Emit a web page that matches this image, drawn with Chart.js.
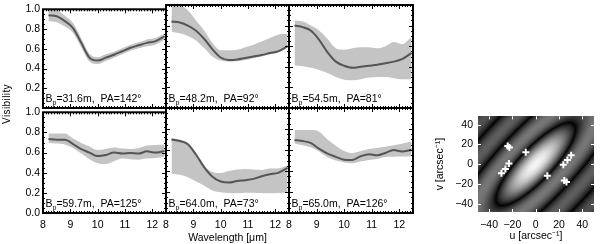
<!DOCTYPE html>
<html>
<head>
<meta charset="utf-8">
<script src="https://cdn.jsdelivr.net/npm/chart.js@4.4.1/dist/chart.umd.min.js"></script>
<style>
  html, body { margin: 0; padding: 0; background: #fff; }
  #wrap { position: relative; width: 600px; height: 244px; overflow: hidden; }
  #wrap canvas { position: absolute; }
</style>
</head>
<body>
<div id="wrap"></div>
<script>
// wavelength grid (micron) shared by all six baselines
const wavelength = [8.2, 8.5, 8.8, 9.1, 9.4, 9.7, 10.0, 10.3, 10.6, 10.9, 11.2, 11.5, 11.8, 12.1, 12.45];

const baselineLen = ['31.6', '48.2', '54.5', '59.7', '64.0', '65.0'];
const baselinePA = [142, 92, 81, 125, 73, 126];

// visibility: mean curve + upper/lower edge of the grey band
const v1Mean  = [0.94, 0.93, 0.88, 0.81, 0.66, 0.51, 0.48, 0.51, 0.54, 0.575, 0.61, 0.635, 0.66, 0.675, 0.725];
const v1Upper = [1.00, 0.99, 0.935, 0.86, 0.705, 0.55, 0.515, 0.545, 0.57, 0.605, 0.64, 0.665, 0.695, 0.71, 0.755];
const v1Lower = [0.88, 0.87, 0.825, 0.76, 0.615, 0.47, 0.445, 0.475, 0.51, 0.545, 0.58, 0.605, 0.625, 0.64, 0.695];

const v2Mean  = [0.84, 0.83, 0.80, 0.75, 0.67, 0.57, 0.49, 0.465, 0.47, 0.485, 0.50, 0.515, 0.533, 0.55, 0.60];
const v2Upper = [1.02, 1.00, 0.95, 0.85, 0.75, 0.63, 0.56, 0.56, 0.565, 0.59, 0.615, 0.645, 0.68, 0.71, 0.72];
const v2Lower = [0.74, 0.725, 0.70, 0.655, 0.58, 0.50, 0.46, 0.45, 0.453, 0.465, 0.482, 0.50, 0.52, 0.54, 0.59];

const v3Mean  = [0.80, 0.785, 0.75, 0.66, 0.54, 0.45, 0.41, 0.39, 0.40, 0.41, 0.42, 0.435, 0.45, 0.475, 0.535];
const v3Upper = [0.85, 0.84, 0.80, 0.75, 0.67, 0.58, 0.565, 0.58, 0.59, 0.59, 0.58, 0.60, 0.64, 0.62, 0.69];
const v3Lower = [0.415, 0.405, 0.39, 0.37, 0.34, 0.30, 0.275, 0.27, 0.28, 0.295, 0.30, 0.30, 0.29, 0.28, 0.28];

const v4Mean  = [0.735, 0.727, 0.727, 0.685, 0.635, 0.60, 0.565, 0.575, 0.60, 0.59, 0.595, 0.59, 0.612, 0.60, 0.615];
const v4Upper = [0.79, 0.79, 0.79, 0.74, 0.695, 0.66, 0.625, 0.635, 0.65, 0.64, 0.635, 0.645, 0.67, 0.675, 0.68];
const v4Lower = [0.695, 0.69, 0.68, 0.645, 0.59, 0.535, 0.495, 0.486, 0.515, 0.54, 0.535, 0.53, 0.54, 0.545, 0.562];

const v5Mean  = [0.70, 0.685, 0.655, 0.555, 0.435, 0.346, 0.30, 0.29, 0.305, 0.313, 0.325, 0.35, 0.37, 0.382, 0.43];
const v5Upper = [0.715, 0.70, 0.665, 0.57, 0.45, 0.39, 0.38, 0.40, 0.415, 0.42, 0.415, 0.41, 0.425, 0.425, 0.455];
const v5Lower = [0.375, 0.365, 0.34, 0.30, 0.26, 0.215, 0.198, 0.19, 0.188, 0.192, 0.194, 0.19, 0.188, 0.19, 0.195];

const v6Mean  = [0.695, 0.685, 0.665, 0.61, 0.565, 0.535, 0.507, 0.505, 0.54, 0.56, 0.55, 0.572, 0.60, 0.585, 0.603];
const v6Upper = [0.79, 0.79, 0.79, 0.775, 0.70, 0.64, 0.59, 0.57, 0.59, 0.61, 0.62, 0.63, 0.645, 0.66, 0.68];
const v6Lower = [0.663, 0.645, 0.625, 0.585, 0.53, 0.50, 0.482, 0.475, 0.49, 0.505, 0.515, 0.533, 0.535, 0.537, 0.54];

const xTicks = [8, 9, 10, 11, 12];
const yTicksTop = [0.2, 0.4, 0.6, 0.8, 1.0];
const yTicksBottom = [0.0, 0.2, 0.4, 0.6, 0.8, 1.0];

// uv coverage (arcsec^-1)
const uvU = [-24, -22.6, -8.5, -23, -26, -29.4, 10, 23.7, 27.2, 30.4, 24.5, 26.4];
const uvV = [18.4, 16.8, 12, 0.7, -4.8, -9.2, -11.7, -0.6, 4.1, 8.9, -16.5, -18];
const uvTicks = [-40, -20, 0, 20, 40];

// model visibility map behind the uv points (elongated thin ring)
const modelAngle = 52;      // deg, long axis of central lobe
const modelNullMajor = 52;  // first null along long axis
const modelNullMinor = 15;  // first null along short axis
const modelStretch = 0.8;   // display stretch

const FONT = 'Liberation Sans, Arial, Helvetica, sans-serif';

const panels = [
  [v1Mean, v1Upper, v1Lower], [v2Mean, v2Upper, v2Lower], [v3Mean, v3Upper, v3Lower],
  [v4Mean, v4Upper, v4Lower], [v5Mean, v5Upper, v5Lower], [v6Mean, v6Upper, v6Lower]
];

const colEdges = [43, 166, 289, 413];
const rowEdges = [5, 108, 213];

function besselJ0(x) {
  const ax = Math.abs(x);
  if (ax < 8) {
    const y = x * x;
    const a1 = 57568490574.0 + y * (-13362590354.0 + y * (651619640.7 + y * (-11214424.18 + y * (77392.33017 + y * (-184.9052456)))));
    const a2 = 57568490411.0 + y * (1029532985.0 + y * (9494680.718 + y * (59272.64853 + y * (267.8532712 + y))));
    return a1 / a2;
  }
  const z = 8 / ax, y = z * z, xx = ax - 0.785398164;
  const p1 = 1.0 + y * (-0.1098628627e-2 + y * (0.2734510407e-4 + y * (-0.2073370639e-5 + y * 0.2093887211e-6)));
  const p2 = -0.1562499995e-1 + y * (0.1430488765e-3 + y * (-0.6911147651e-5 + y * (0.7621095161e-6 - y * 0.934935152e-7)));
  return Math.sqrt(0.636619772 / ax) * (Math.cos(xx) * p1 - z * Math.sin(xx) * p2);
}

// IDL-style box with inward ticks
const frame = {
  id: 'frame',
  afterDraw(chart, args, o) {
    const { ctx, chartArea: a, scales: { x, y } } = chart;
    ctx.save();
    ctx.strokeStyle = o.color;
    if (o.box) {
      ctx.lineWidth = 2;
      ctx.strokeRect(a.left, a.top, a.right - a.left, a.bottom - a.top);
    }
    ctx.lineWidth = o.tickWidth;
    ctx.beginPath();
    const xs = (step, len) => {
      for (let v = Math.ceil(x.min / step - 1e-6) * step; v <= x.max + 1e-9; v += step) {
        const p = Math.round(x.getPixelForValue(v)) + 0.5;
        ctx.moveTo(p, a.top); ctx.lineTo(p, a.top + len);
        ctx.moveTo(p, a.bottom); ctx.lineTo(p, a.bottom - len);
      }
    };
    const ys = (step, len) => {
      for (let v = Math.ceil(y.min / step - 1e-6) * step; v <= y.max + 1e-9; v += step) {
        const p = Math.round(y.getPixelForValue(v)) + 0.5;
        ctx.moveTo(a.left, p); ctx.lineTo(a.left + len, p);
        ctx.moveTo(a.right, p); ctx.lineTo(a.right - len, p);
      }
    };
    xs(o.xMajor, o.majorLen); ys(o.yMajor, o.majorLen);
    if (o.xMinor) xs(o.xMinor, o.minorLen);
    if (o.yMinor) ys(o.yMinor, o.minorLen);
    ctx.stroke();
    ctx.restore();
  }
};

// baseline label and free-standing axis labels
const notes = {
  id: 'notes',
  afterDatasetsDraw(chart, args, o) {
    const { ctx, chartArea: a } = chart;
    ctx.save();
    ctx.fillStyle = '#000';
    ctx.textBaseline = 'alphabetic';
    if (o.bp) {
      let px = a.left + 2.5, py = a.bottom - 6;
      ctx.font = '10.5px ' + FONT;
      ctx.fillText('B', px, py); px += ctx.measureText('B').width;
      ctx.font = '7px ' + FONT;
      ctx.fillText('p', px, py + 2.5); px += ctx.measureText('p').width;
      ctx.font = '10.5px ' + FONT;
      ctx.fillText('=' + o.bp + 'm,  PA=' + o.pa + '\u00B0', px, py);
    }
    (o.extra || []).forEach(t => {
      ctx.save();
      ctx.font = t.size + 'px ' + FONT;
      ctx.letterSpacing = '0.4px';
      ctx.textAlign = 'center';
      ctx.translate(t.x, t.y);
      if (t.rot) ctx.rotate(t.rot);
      ctx.fillText(t.text, 0, 0);
      ctx.restore();
    });
    ctx.restore();
  }
};

const uvField = {
  id: 'uvField',
  beforeDatasetsDraw(chart) {
    const { ctx, chartArea: a, scales: { x, y } } = chart;
    const l = Math.round(a.left), t = Math.round(a.top);
    const w = Math.round(a.right) - l, h = Math.round(a.bottom) - t;
    const img = ctx.createImageData(w, h);
    const th = modelAngle * Math.PI / 180, c = Math.cos(th), s = Math.sin(th);
    for (let j = 0; j < h; j++) {
      const v = y.getValueForPixel(t + j + 0.5);
      for (let i = 0; i < w; i++) {
        const u = x.getValueForPixel(l + i + 0.5);
        const p = u * c + v * s, q = -u * s + v * c;
        const r = 2.4048 * Math.hypot(p / modelNullMajor, q / modelNullMinor);
        const vis = Math.abs(besselJ0(r));
        const g = Math.round(245 * Math.pow(vis, modelStretch));
        const k = (j * w + i) * 4;
        img.data[k] = img.data[k + 1] = img.data[k + 2] = g;
        img.data[k + 3] = 255;
      }
    }
    ctx.putImageData(img, l, t);
  }
};

const wrap = document.getElementById('wrap');
function makeCanvas(left, top, w, h) {
  const cv = document.createElement('canvas');
  cv.width = w; cv.height = h;
  cv.style.left = left + 'px'; cv.style.top = top + 'px';
  cv.style.width = w + 'px'; cv.style.height = h + 'px';
  wrap.appendChild(cv);
  return cv;
}

const PL = 43, PT = 5, PR = 3, PB = 31;
panels.forEach(([mean, upper, lower], i) => {
  const col = i % 3, row = Math.floor(i / 3);
  const x0 = colEdges[col], x1 = colEdges[col + 1];
  const y0 = rowEdges[row], y1 = rowEdges[row + 1];
  const cv = makeCanvas(x0 - PL, y0 - PT, PL + (x1 - x0) + PR, PT + (y1 - y0) + PB);
  const pts = arr => arr.map((v, k) => ({ x: wavelength[k], y: v }));
  const extra = [];
  if (i === 0) extra.push({ text: 'Visibility', x: 10 - (x0 - PL), y: 104 - (y0 - PT), rot: -Math.PI / 2, size: 10 });
  new Chart(cv, {
    type: 'line',
    data: {
      datasets: [
        { data: pts(lower), order: 2, borderWidth: 0, pointRadius: 0, fill: false, cubicInterpolationMode: 'monotone' },
        { data: pts(upper), order: 1, borderWidth: 0, pointRadius: 0, fill: '-1', backgroundColor: '#c4c4c4', cubicInterpolationMode: 'monotone' },
        { data: pts(mean), order: 0, borderColor: '#555555', borderWidth: 2, pointRadius: 0, fill: false, cubicInterpolationMode: 'monotone' }
      ]
    },
    options: {
      responsive: false, animation: false, events: [], devicePixelRatio: 1,
      layout: { padding: { top: PT, right: PR, left: 0, bottom: 0 } },
      plugins: {
        legend: { display: false }, tooltip: { enabled: false },
        frame: { color: '#000', box: true, tickWidth: 1, xMajor: 1, yMajor: 0.2, xMinor: 0.1, yMinor: 0.05, majorLen: 4, minorLen: 2 },
        notes: { bp: baselineLen[i], pa: baselinePA[i], extra }
      },
      scales: {
        x: {
          type: 'linear', min: 8, max: 12.5,
          grid: { display: false, drawTicks: false }, border: { display: false },
          afterBuildTicks: s => { s.ticks = xTicks.map(v => ({ value: v })); },
          afterFit: s => { s.height = PB; },
          ticks: { display: row === 1, padding: 6, color: '#000', maxRotation: 0, autoSkip: false, font: { family: FONT, size: 10.5 } },
          title: { display: i === 4, text: 'Wavelength [\u03BCm]', color: '#000', padding: 0, font: { family: FONT, size: 10.5 } }
        },
        y: {
          type: 'linear', min: 0, max: 1,
          grid: { display: false, drawTicks: false }, border: { display: false },
          afterBuildTicks: s => { s.ticks = (row === 0 ? yTicksTop : yTicksBottom).map(v => ({ value: v })); },
          afterFit: s => { s.width = PL; },
          ticks: { display: col === 0, padding: 3, color: '#000', font: { family: FONT, size: 10.5 }, callback: v => v.toFixed(1) }
        }
      }
    },
    plugins: [frame, notes]
  });
});

// uv-plane panel
const uvCanvas = makeCanvas(430, 105, 170, 139);
const minus = v => (v < 0 ? '\u2212' + Math.abs(v) : String(v));
new Chart(uvCanvas, {
  type: 'scatter',
  data: {
    datasets: [{
      data: uvU.map((u, k) => ({ x: u, y: uvV[k] })),
      pointStyle: 'cross', pointRadius: 3.5, borderWidth: 2, borderColor: '#ffffff'
    }]
  },
  options: {
    responsive: false, animation: false, events: [], devicePixelRatio: 1,
    layout: { padding: { top: 5, right: 0, left: 0, bottom: 0 } },
    plugins: {
      legend: { display: false }, tooltip: { enabled: false },
      frame: { color: '#ffffff', box: false, tickWidth: 1, xMajor: 20, yMajor: 20, majorLen: 3 }
    },
    scales: {
      x: {
        type: 'linear', min: -49.5, max: 50,
        grid: { display: false, drawTicks: false }, border: { display: false },
        afterBuildTicks: s => { s.ticks = uvTicks.map(v => ({ value: v })); },
        afterFit: s => { s.height = 32; },
        ticks: { padding: 7, color: '#000', maxRotation: 0, autoSkip: false, font: { family: FONT, size: 10.5 }, callback: minus },
        title: { display: true, text: 'u [arcsec\u207B\u00B9]', color: '#000', padding: { top: 0, bottom: 2 }, font: { family: FONT, size: 10.5 } }
      },
      y: {
        type: 'linear', min: -48.5, max: 48.5,
        grid: { display: false, drawTicks: false }, border: { display: false },
        afterBuildTicks: s => { s.ticks = uvTicks.map(v => ({ value: v })); },
        afterFit: s => { s.width = 48; },
        ticks: { padding: 5, color: '#000', font: { family: FONT, size: 10.5 }, callback: minus },
        title: { display: true, text: 'v [arcsec\u207B\u00B9]', color: '#000', padding: { top: 4, bottom: 0 }, font: { family: FONT, size: 10.5 } }
      }
    }
  },
  plugins: [uvField, frame]
});
</script>
</body>
</html>
